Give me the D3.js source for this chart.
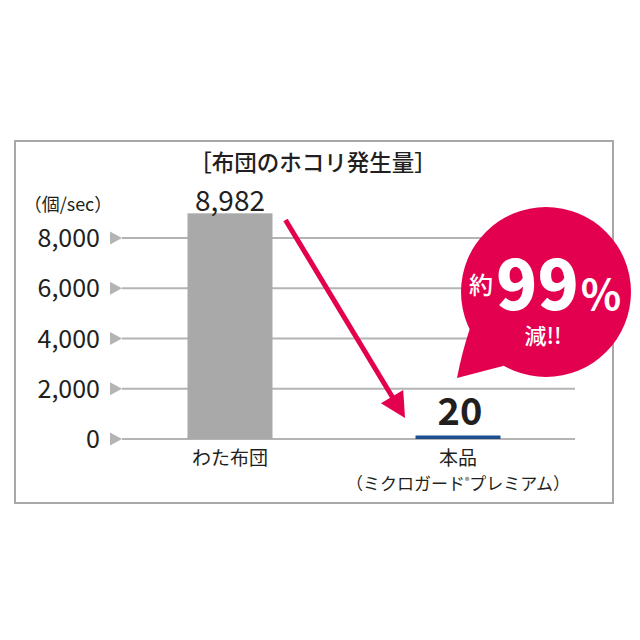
<!DOCTYPE html>
<html><head><meta charset="utf-8">
<script src="https://cdn.jsdelivr.net/npm/d3@7"></script>
<style>
html,body{margin:0;padding:0;background:#fff;}
svg{display:block;}
text{font-family:"Noto Sans CJK JP","Noto Sans",sans-serif;fill:#231f20;}
</style></head>
<body>
<svg id="c" width="640" height="640"></svg>
<script>
// ---- data ----
const categories = ["わた布団", "本品"];
const subLabels = ["", "（ミクロガード®プレミアム）"];
const values = [8982, 20];
const valueLabels = ["8,982", "20"];
const tickValues = [0, 2000, 4000, 6000, 8000];
const tickLabels = ["0", "2,000", "4,000", "6,000", "8,000"];
const title = "［布団のホコリ発生量］";
const unitLabel = "（個/sec）";
const calloutMain = ["約", "99", "%"];
const calloutSub = "減!!";

const svg = d3.select("#c");
const grey = "#b4b4b4";
const magenta = "#e3004f";

// frame
svg.append("rect").attr("x", 15).attr("y", 141).attr("width", 598).attr("height", 362)
  .attr("fill", "none").attr("stroke", "#a8a8a8").attr("stroke-width", 2);

const y = d3.scaleLinear().domain([0, 8000]).range([439, 238]);
const x = d3.scalePoint().domain(categories).range([230, 458]);
const bw = 85;

// grid lines + tick triangles + labels
const gridG = svg.append("g");
tickValues.forEach((t, i) => {
  const yy = y(t);
  gridG.append("line").attr("x1", 122).attr("x2", 575).attr("y1", yy).attr("y2", yy)
    .attr("stroke", grey).attr("stroke-width", 2);
  gridG.append("path").attr("d", `M110,${yy-6.5}L122,${yy}L110,${yy+6.5}Z`).attr("fill", grey);
  gridG.append("text").attr("x", 100).attr("y", yy + 9).attr("text-anchor", "end")
    .attr("font-size", 25).text(tickLabels[i]);
});

// title & unit
svg.append("text").attr("x", 313).attr("y", 171).attr("text-anchor", "middle")
  .attr("font-size", 22.5).attr("font-weight", 500).text(title);
svg.append("text").attr("x", 68).attr("y", 211).attr("text-anchor", "middle")
  .attr("font-size", 18).text(unitLabel);

// bars
const barColors = ["#a9a9a9", "#1d4f8e"];
categories.forEach((c, i) => {
  const top = y(values[i]);
  const h = Math.max(y(0) - top, 3.5);
  svg.append("rect").attr("x", x(c) - bw / 2).attr("y", y(0) - h)
    .attr("width", bw).attr("height", h).attr("fill", barColors[i]);
});

// value labels
svg.append("text").attr("x", x(categories[0])).attr("y", y(values[0]) - 2)
  .attr("text-anchor", "middle").attr("font-size", 28).text(valueLabels[0]);
svg.append("text").attr("x", x(categories[1]) + 2).attr("y", y(0) - 14)
  .attr("text-anchor", "middle").attr("font-size", 38).attr("font-weight", 700).text(valueLabels[1]);

// category labels
categories.forEach((c, i) => {
  svg.append("text").attr("x", x(c)).attr("y", 465).attr("text-anchor", "middle")
    .attr("font-size", 19).attr("font-weight", 400).text(c);
});
const sub = svg.append("text").attr("x", x(categories[1])).attr("y", 490)
  .attr("text-anchor", "middle").attr("font-size", 17);
const parts = subLabels[1].split("®");
sub.append("tspan").text(parts[0]);
sub.append("tspan").attr("font-size", 9).attr("dy", -6).text("®");
sub.append("tspan").attr("dy", 6).text(parts[1]);

// arrow
const sx = x(categories[0]) + bw / 2 + 13, sy = y(8000) - 18;
const tx = x(categories[1]) - 53, ty = y(0) - 21;
const dx = tx - sx, dy = ty - sy, L = Math.hypot(dx, dy);
const ux = dx / L, uy = dy / L;
const hl = 25, hw = 13;
const bx = tx - ux * hl, by = ty - uy * hl;
svg.append("line").attr("x1", sx).attr("y1", sy).attr("x2", bx + ux * 2).attr("y2", by + uy * 2)
  .attr("stroke", magenta).attr("stroke-width", 5);
svg.append("path").attr("d", `M${tx},${ty}L${bx - uy * hw},${by + ux * hw}L${bx + uy * hw},${by - ux * hw}Z`)
  .attr("fill", magenta);

// callout bubble
const cx = 546, cy = 292, r = 85;
svg.append("circle").attr("cx", cx).attr("cy", cy).attr("r", r).attr("fill", magenta);
svg.append("path").attr("d", "M470,328 Q462,352 457,378 L503,366 L520,340 Z").attr("fill", magenta);

const t1 = svg.append("text").attr("x", 469).attr("y", 310).style("fill", "#fff");
t1.append("tspan").attr("font-size", 24).attr("font-weight", 500).attr("dy", -16).text(calloutMain[0]);
t1.append("tspan").attr("font-size", 68).attr("font-weight", 900).attr("dy", 16).attr("dx", 3).text(calloutMain[1]);
t1.append("tspan").attr("font-size", 42).attr("font-weight", 600).attr("dx", 2).text(calloutMain[2]);
svg.append("text").attr("x", 543).attr("y", 344).attr("text-anchor", "middle")
  .attr("font-size", 22).attr("font-weight", 500).style("fill", "#fff").text(calloutSub);
</script>
</body></html>
